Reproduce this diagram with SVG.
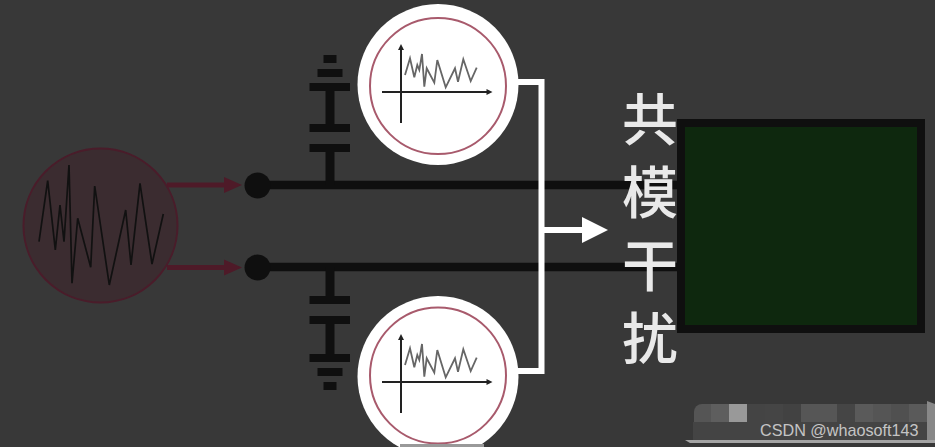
<svg xmlns="http://www.w3.org/2000/svg" width="935" height="447" viewBox="0 0 935 447">
<defs>
<style>
.wire{stroke:#0f0f0f;stroke-width:8.5;fill:none}
.bar{fill:#0f0f0f}
.red{stroke:#4e1a28;stroke-width:5;fill:none}
.redh{fill:#4e1a28}
.white{stroke:#fff;stroke-width:6;fill:none}
.wave{fill:none;stroke:#666;stroke-width:1.8;stroke-linejoin:miter}
.axis{stroke:#222;stroke-width:2;fill:none}
.ax{fill:#222}
.cjk{font-family:"Noto Sans CJK SC","Noto Sans",sans-serif;font-size:56px;font-weight:500;fill:#e9e9e9;text-anchor:middle}
</style>
<g id="scope">
<path class="wave" d="M405 75 L410 58.300 L414.300 77.300 L417.300 65 L419.300 70 L422 54 L424.300 86.700 L426.700 68.300 L434.300 82.700 L437.300 60 L445.700 87.300 L455 68.300 L458 81.700 L463.300 59.300 L470.700 81 L476.700 67.700"/>
<path class="axis" d="M401 48V123M382 92H488"/>
<path class="ax" d="M401 44l-3 6h6zM492.500 92l-6-3v6z"/>
</g>
</defs>
<rect width="935" height="447" fill="#383838"/>
<g id="connectors">
<path class="wire" d="M258 185H680M258 267H680"/>
<path class="wire" style="stroke-width:9" d="M330 87V128M330 148V185M330 267V300M330 320V358"/>
<path class="red" d="M167 185H226M167 267.500H226"/>
<path class="redh" d="M224 177l18 8-18 8zM224 259.500l18 8-18 8z"/>
<path class="white" d="M516 82H541.500V371H516"/>
<path class="white" d="M541.500 230H584"/>
<path d="M582 217l26 13-26 13z" fill="#fff"/>
</g>
<g id="noise-source">
<circle cx="100.500" cy="225.500" r="77" fill="#3b2c30" stroke="#4a1c2a" stroke-width="2"/>
<path fill="none" stroke="#111" stroke-width="1.700" d="M39 241.700L47.700 180.700L55.300 250L60 205L64 241.700L69 165L72 283.300L77.700 218.300L90.700 267.300L94.700 186L109.300 285L125.700 210L131 265L140 183.300L152 264L163.300 214"/>
</g>
<g id="terminal-top"><circle cx="257.500" cy="185.500" r="13" fill="#0f0f0f"/></g>
<g id="terminal-bottom"><circle cx="257.500" cy="267.500" r="13" fill="#0f0f0f"/></g>
<g id="capacitor-top">
<rect class="bar" x="309.500" y="83" width="40.500" height="8"/>
<rect class="bar" x="309.500" y="124" width="40.500" height="8"/>
<rect class="bar" x="309.500" y="144" width="40.500" height="8"/>
<rect class="bar" x="317.500" y="69" width="25" height="8"/>
<rect class="bar" x="323.500" y="55" width="13" height="8"/>
</g>
<g id="capacitor-bottom">
<rect class="bar" x="309.500" y="296" width="40.500" height="8"/>
<rect class="bar" x="309.500" y="316" width="40.500" height="8"/>
<rect class="bar" x="309.500" y="354" width="40.500" height="8"/>
<rect class="bar" x="317.500" y="368" width="25" height="8"/>
<rect class="bar" x="323.500" y="382" width="13" height="8"/>
</g>
<g id="scope-top">
<circle cx="438" cy="84.500" r="80.500" fill="#fff"/>
<circle cx="438" cy="86" r="68" fill="none" stroke="#a85a6c" stroke-width="2"/>
<use href="#scope"/>
</g>
<g id="scope-bottom">
<circle cx="438" cy="376.500" r="80.500" fill="#fff"/>
<circle cx="438" cy="375.500" r="68" fill="none" stroke="#a85a6c" stroke-width="2"/>
<use href="#scope" y="290"/>
<rect x="400" y="444" width="84" height="3" fill="#999"/>
</g>
<g id="device">
<rect x="681" y="123" width="240" height="206" fill="#0e280e" stroke="#0f0f0f" stroke-width="8"/>
</g>
<g id="label">
<text class="cjk" x="650" y="140">共</text>
<text class="cjk" x="650" y="213">模</text>
<text class="cjk" x="650" y="286">干</text>
<text class="cjk" x="650" y="359">扰</text>
</g>
<g id="watermark">
<path d="M694 422V412a8 8 0 0 1 8-8h10v18z" fill="#555"/>
<rect x="711" y="404" width="18" height="18" fill="#5e5e5e"/>
<rect x="729" y="404" width="18" height="18" fill="#999"/>
<rect x="747" y="404" width="18" height="18" fill="#444"/>
<rect x="765" y="404" width="18" height="18" fill="#454545"/>
<rect x="783" y="404" width="18" height="18" fill="#424242"/>
<rect x="801" y="404" width="36" height="18" fill="#565656"/>
<rect x="837" y="404" width="18" height="18" fill="#454545"/>
<rect x="855" y="404" width="18" height="18" fill="#5a5a5a"/>
<rect x="873" y="404" width="18" height="18" fill="#555"/>
<rect x="891" y="404" width="18" height="18" fill="#505050"/>
<rect x="909" y="404" width="18" height="18" fill="#5a5a5a"/>
<path d="M927 401l8 3v38h-8z" fill="#888"/>
<rect x="693" y="422" width="234" height="18" fill="#444"/>
<path d="M685 440H935V443H690z" fill="#a5a5a5"/>
<text x="760" y="436" font-family="Liberation Sans, Arial, sans-serif" font-size="16.200" fill="#c4c4c4">CSDN @whaosoft143</text>
</g>
</svg>
